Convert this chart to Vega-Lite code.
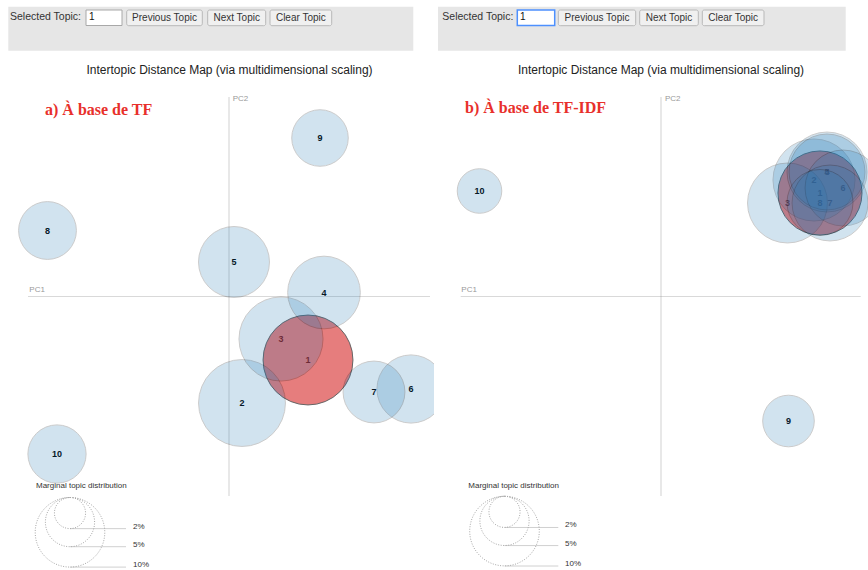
{
  "$schema": "https://vega.github.io/schema/vega-lite/v6.json",
  "padding": 0,
  "spacing": 0,
  "bounds": "flush",
  "background": "white",
  "config": {"view": {"stroke": null}, "font": "Liberation Sans", "axis": {"disable": true}, "legend": {"disable": true}},
  "resolve": {"scale": {"x": "independent", "y": "independent", "size": "independent"}},
  "datasets": {
    "tf": [
      {"topic": 1, "PC1": 0.158, "PC2": -0.127, "pct": 16.7},
      {"topic": 2, "PC1": 0.026, "PC2": -0.213, "pct": 15.6},
      {"topic": 3, "PC1": 0.104, "PC2": -0.085, "pct": 14.6},
      {"topic": 4, "PC1": 0.190, "PC2": 0.008, "pct": 10.9},
      {"topic": 5, "PC1": 0.010, "PC2": 0.069, "pct": 10.4},
      {"topic": 6, "PC1": 0.364, "PC2": -0.185, "pct": 9.6},
      {"topic": 7, "PC1": 0.290, "PC2": -0.191, "pct": 7.9},
      {"topic": 8, "PC1": -0.363, "PC2": 0.132, "pct": 6.9},
      {"topic": 9, "PC1": 0.182, "PC2": 0.317, "pct": 6.6},
      {"topic": 10, "PC1": -0.344, "PC2": -0.315, "pct": 7.0}
    ],
    "tfidf": [
      {"topic": 1, "PC1": 0.318, "PC2": 0.207, "pct": 14.6},
      {"topic": 2, "PC1": 0.306, "PC2": 0.233, "pct": 13.9},
      {"topic": 3, "PC1": 0.253, "PC2": 0.187, "pct": 13.2},
      {"topic": 4, "PC1": 0.332, "PC2": 0.249, "pct": 13.2},
      {"topic": 5, "PC1": 0.332, "PC2": 0.249, "pct": 11.9},
      {"topic": 6, "PC1": 0.364, "PC2": 0.217, "pct": 11.9},
      {"topic": 7, "PC1": 0.338, "PC2": 0.187, "pct": 11.9},
      {"topic": 8, "PC1": 0.318, "PC2": 0.188, "pct": 9.0},
      {"topic": 9, "PC1": 0.255, "PC2": -0.249, "pct": 5.5},
      {"topic": 10, "PC1": -0.363, "PC2": 0.211, "pct": 4.1}
    ],
    "legend": [
      {"pct": 2, "label": "2%"},
      {"pct": 5, "label": "5%"},
      {"pct": 10, "label": "10%"}
    ]
  },
  "hconcat": [
    {
      "width": 434,
      "height": 570,
      "resolve": {"scale": {"y": "independent"}},
      "layer": [
        {
          "layer": [
            {"data": {"values": [{}]}, "mark": {"type": "rect", "fill": "#e6e6e6"},
             "encoding": {"x": {"datum": -0.4414, "type": "quantitative", "scale": {"domain": [-0.458, 0.41], "nice": false, "zero": false}}, "x2": {"datum": 0.3686},
                          "y": {"datum": 0.5796, "type": "quantitative", "scale": {"domain": [-0.547, 0.593], "nice": false, "zero": false}}, "y2": {"datum": 0.4916}}},
            {"data": {"values": [{}]}, "mark": {"type": "rect", "fill": "white", "stroke": "#a8a8a8", "strokeWidth": 1},
             "encoding": {"x": {"datum": -0.286, "type": "quantitative", "scale": {"domain": [-0.458, 0.41], "nice": false, "zero": false}}, "x2": {"datum": -0.214},
                          "y": {"datum": 0.573, "type": "quantitative", "scale": {"domain": [-0.547, 0.593], "nice": false, "zero": false}}, "y2": {"datum": 0.542}}},
            {"data": {"values": [{}]}, "mark": {"type": "rect", "fill": "#f0f0f0", "stroke": "#b8b8b8", "strokeWidth": 1, "cornerRadius": 2},
             "encoding": {"x": {"datum": -0.2046, "type": "quantitative", "scale": {"domain": [-0.458, 0.41], "nice": false, "zero": false}}, "x2": {"datum": -0.0534},
                          "y": {"datum": 0.573, "type": "quantitative", "scale": {"domain": [-0.547, 0.593], "nice": false, "zero": false}}, "y2": {"datum": 0.5416}}},
            {"data": {"values": [{}]}, "mark": {"type": "rect", "fill": "#f0f0f0", "stroke": "#b8b8b8", "strokeWidth": 1, "cornerRadius": 2},
             "encoding": {"x": {"datum": -0.0426, "type": "quantitative", "scale": {"domain": [-0.458, 0.41], "nice": false, "zero": false}}, "x2": {"datum": 0.0734},
                          "y": {"datum": 0.573, "type": "quantitative", "scale": {"domain": [-0.547, 0.593], "nice": false, "zero": false}}, "y2": {"datum": 0.5416}}},
            {"data": {"values": [{}]}, "mark": {"type": "rect", "fill": "#f0f0f0", "stroke": "#b8b8b8", "strokeWidth": 1, "cornerRadius": 2},
             "encoding": {"x": {"datum": 0.082, "type": "quantitative", "scale": {"domain": [-0.458, 0.41], "nice": false, "zero": false}}, "x2": {"datum": 0.2054},
                          "y": {"datum": 0.573, "type": "quantitative", "scale": {"domain": [-0.547, 0.593], "nice": false, "zero": false}}, "y2": {"datum": 0.5416}}},
            {"data": {"values": [{}]}, "mark": {"type": "text", "text": "Selected Topic:", "align": "left", "baseline": "middle", "fontSize": 10.5, "fill": "#333333"},
             "encoding": {"x": {"datum": -0.438, "type": "quantitative", "scale": {"domain": [-0.458, 0.41], "nice": false, "zero": false}},
                          "y": {"datum": 0.5584, "type": "quantitative", "scale": {"domain": [-0.547, 0.593], "nice": false, "zero": false}}}},
            {"data": {"values": [{}]}, "mark": {"type": "text", "text": "1", "align": "left", "baseline": "middle", "fontSize": 10, "fill": "#111111"},
             "encoding": {"x": {"datum": -0.28, "type": "quantitative", "scale": {"domain": [-0.458, 0.41], "nice": false, "zero": false}},
                          "y": {"datum": 0.5584, "type": "quantitative", "scale": {"domain": [-0.547, 0.593], "nice": false, "zero": false}}}},
            {"data": {"values": [{}]}, "mark": {"type": "text", "text": "Previous Topic", "align": "center", "baseline": "middle", "fontSize": 10, "fill": "#333333"},
             "encoding": {"x": {"datum": -0.129, "type": "quantitative", "scale": {"domain": [-0.458, 0.41], "nice": false, "zero": false}},
                          "y": {"datum": 0.5573, "type": "quantitative", "scale": {"domain": [-0.547, 0.593], "nice": false, "zero": false}}}},
            {"data": {"values": [{}]}, "mark": {"type": "text", "text": "Next Topic", "align": "center", "baseline": "middle", "fontSize": 10, "fill": "#333333"},
             "encoding": {"x": {"datum": 0.0154, "type": "quantitative", "scale": {"domain": [-0.458, 0.41], "nice": false, "zero": false}},
                          "y": {"datum": 0.5573, "type": "quantitative", "scale": {"domain": [-0.547, 0.593], "nice": false, "zero": false}}}},
            {"data": {"values": [{}]}, "mark": {"type": "text", "text": "Clear Topic", "align": "center", "baseline": "middle", "fontSize": 10, "fill": "#333333"},
             "encoding": {"x": {"datum": 0.1437, "type": "quantitative", "scale": {"domain": [-0.458, 0.41], "nice": false, "zero": false}},
                          "y": {"datum": 0.5573, "type": "quantitative", "scale": {"domain": [-0.547, 0.593], "nice": false, "zero": false}}}},
            {"data": {"values": [{}]}, "mark": {"type": "text", "text": "Intertopic Distance Map (via multidimensional scaling)", "align": "center", "baseline": "middle", "fontSize": 12, "fill": "#222222"},
             "encoding": {"x": {"datum": 0.001, "type": "quantitative", "scale": {"domain": [-0.458, 0.41], "nice": false, "zero": false}},
                          "y": {"datum": 0.453, "type": "quantitative", "scale": {"domain": [-0.547, 0.593], "nice": false, "zero": false}}}},
            {"data": {"values": [{}]}, "mark": {"type": "text", "text": "a) À base de TF", "align": "left", "baseline": "alphabetic", "fontSize": 16, "font": "Liberation Serif", "fontWeight": "bold", "fill": "#e8302b"},
             "encoding": {"x": {"datum": -0.368, "type": "quantitative", "scale": {"domain": [-0.458, 0.41], "nice": false, "zero": false}},
                          "y": {"datum": 0.363, "type": "quantitative", "scale": {"domain": [-0.547, 0.593], "nice": false, "zero": false}}}},
            {"data": {"values": [{}]}, "mark": {"type": "rule", "stroke": "gray", "opacity": 0.3, "strokeWidth": 1.2},
             "encoding": {"x": {"datum": -0.402, "type": "quantitative", "scale": {"domain": [-0.458, 0.41], "nice": false, "zero": false}}, "x2": {"datum": 0.402},
                          "y": {"datum": 0, "type": "quantitative", "scale": {"domain": [-0.547, 0.593], "nice": false, "zero": false}}}},
            {"data": {"values": [{}]}, "mark": {"type": "rule", "stroke": "gray", "opacity": 0.3, "strokeWidth": 1.2},
             "encoding": {"x": {"datum": 0, "type": "quantitative", "scale": {"domain": [-0.458, 0.41], "nice": false, "zero": false}},
                          "y": {"datum": 0.399, "type": "quantitative", "scale": {"domain": [-0.547, 0.593], "nice": false, "zero": false}}, "y2": {"datum": -0.399}}},
            {"data": {"values": [{}]}, "mark": {"type": "text", "text": "PC1", "align": "left", "baseline": "middle", "fontSize": 8, "fill": "#999999"},
             "encoding": {"x": {"datum": -0.3994, "type": "quantitative", "scale": {"domain": [-0.458, 0.41], "nice": false, "zero": false}},
                          "y": {"datum": 0.013, "type": "quantitative", "scale": {"domain": [-0.547, 0.593], "nice": false, "zero": false}}}},
            {"data": {"values": [{}]}, "mark": {"type": "text", "text": "PC2", "align": "left", "baseline": "middle", "fontSize": 8, "fill": "#999999"},
             "encoding": {"x": {"datum": 0.0074, "type": "quantitative", "scale": {"domain": [-0.458, 0.41], "nice": false, "zero": false}},
                          "y": {"datum": 0.395, "type": "quantitative", "scale": {"domain": [-0.547, 0.593], "nice": false, "zero": false}}}},
            {"data": {"name": "tf"}, "mark": {"type": "text", "fontSize": 9, "fontWeight": "bold", "fill": "black", "align": "center", "baseline": "middle"},
             "encoding": {"x": {"field": "PC1", "type": "quantitative", "scale": {"domain": [-0.458, 0.41], "nice": false, "zero": false}},
                          "y": {"field": "PC2", "type": "quantitative", "scale": {"domain": [-0.547, 0.593], "nice": false, "zero": false}},
                          "text": {"field": "topic", "type": "nominal"}}},
            {"data": {"name": "tf"}, "transform": [{"filter": "datum.topic == 1"}],
             "mark": {"type": "circle", "fill": "#d62728", "stroke": "black", "strokeWidth": 1, "opacity": 0.6, "clip": true},
             "encoding": {"x": {"field": "PC1", "type": "quantitative", "scale": {"domain": [-0.458, 0.41], "nice": false, "zero": false}},
                          "y": {"field": "PC2", "type": "quantitative", "scale": {"domain": [-0.547, 0.593], "nice": false, "zero": false}},
                          "size": {"field": "pct", "type": "quantitative", "scale": {"type": "linear", "domain": [0, 10], "range": [0, 4840], "zero": true, "nice": false}}}},
            {"data": {"name": "tf"}, "transform": [{"filter": "datum.topic != 1"}],
             "mark": {"type": "circle", "fill": "#1f77b4", "stroke": "black", "strokeWidth": 1, "opacity": 0.2, "clip": true},
             "encoding": {"x": {"field": "PC1", "type": "quantitative", "scale": {"domain": [-0.458, 0.41], "nice": false, "zero": false}},
                          "y": {"field": "PC2", "type": "quantitative", "scale": {"domain": [-0.547, 0.593], "nice": false, "zero": false}},
                          "size": {"field": "pct", "type": "quantitative", "scale": {"type": "linear", "domain": [0, 10], "range": [0, 4840], "zero": true, "nice": false}}}},
            {"data": {"values": [{}]}, "mark": {"type": "text", "text": "Marginal topic distribution", "align": "left", "baseline": "middle", "fontSize": 8, "fill": "#333333"},
             "encoding": {"x": {"datum": -0.386, "type": "quantitative", "scale": {"domain": [-0.458, 0.41], "nice": false, "zero": false}},
                          "y": {"datum": -0.379, "type": "quantitative", "scale": {"domain": [-0.547, 0.593], "nice": false, "zero": false}}}}
          ]
        },
        {
          "data": {"name": "legend"},
          "layer": [
            {"mark": {"type": "rule", "stroke": "#d0d0d0", "strokeWidth": 1},
             "encoding": {"x": {"datum": -0.318, "type": "quantitative", "scale": {"domain": [-0.458, 0.41], "nice": false, "zero": false}}, "x2": {"datum": -0.206},
                          "y": {"field": "pct", "type": "quantitative", "scale": {"type": "sqrt", "domain": [0, 10], "range": [497.5, 567.1], "nice": false, "zero": true}}}},
            {"mark": {"type": "point", "shape": "M0,0C0.5523,0,1,0.4477,1,1C1,1.5523,0.5523,2,0,2C-0.5523,2,-1,1.5523,-1,1C-1,0.4477,-0.5523,0,0,0Z", "filled": false, "stroke": "#a8a8a8", "strokeWidth": 1, "strokeDash": [1, 1.5], "opacity": 1},
             "encoding": {"x": {"datum": -0.318, "type": "quantitative", "scale": {"domain": [-0.458, 0.41], "nice": false, "zero": false}},
                          "y": {"datum": 0, "type": "quantitative", "scale": {"type": "sqrt", "domain": [0, 10], "range": [497.5, 567.1], "nice": false, "zero": true}},
                          "size": {"field": "pct", "type": "quantitative", "scale": {"type": "linear", "domain": [0, 10], "range": [0, 4840], "zero": true, "nice": false}}}},
            {"mark": {"type": "text", "align": "left", "baseline": "middle", "dy": -2, "fontSize": 8, "fill": "#333333"},
             "encoding": {"x": {"datum": -0.192, "type": "quantitative", "scale": {"domain": [-0.458, 0.41], "nice": false, "zero": false}},
                          "y": {"field": "pct", "type": "quantitative", "scale": {"type": "sqrt", "domain": [0, 10], "range": [497.5, 567.1], "nice": false, "zero": true}},
                          "text": {"field": "label", "type": "nominal"}}}
          ]
        }
      ]
    },
    {
      "width": 434,
      "height": 570,
      "resolve": {"scale": {"y": "independent"}},
      "layer": [
        {
          "layer": [
            {"data": {"values": [{}]}, "mark": {"type": "rect", "fill": "#e6e6e6"},
             "encoding": {"x": {"datum": -0.446, "type": "quantitative", "scale": {"domain": [-0.454, 0.414], "nice": false, "zero": false}}, "x2": {"datum": 0.3694},
                          "y": {"datum": 0.5796, "type": "quantitative", "scale": {"domain": [-0.547, 0.593], "nice": false, "zero": false}}, "y2": {"datum": 0.4916}}},
            {"data": {"values": [{}]}, "mark": {"type": "rect", "fill": "white", "stroke": "#4d90fe", "strokeWidth": 1.5},
             "encoding": {"x": {"datum": -0.2874, "type": "quantitative", "scale": {"domain": [-0.454, 0.414], "nice": false, "zero": false}}, "x2": {"datum": -0.2126},
                          "y": {"datum": 0.573, "type": "quantitative", "scale": {"domain": [-0.547, 0.593], "nice": false, "zero": false}}, "y2": {"datum": 0.542}}},
            {"data": {"values": [{}]}, "mark": {"type": "rect", "fill": "#f0f0f0", "stroke": "#b8b8b8", "strokeWidth": 1, "cornerRadius": 2},
             "encoding": {"x": {"datum": -0.2054, "type": "quantitative", "scale": {"domain": [-0.454, 0.414], "nice": false, "zero": false}}, "x2": {"datum": -0.0506},
                          "y": {"datum": 0.573, "type": "quantitative", "scale": {"domain": [-0.547, 0.593], "nice": false, "zero": false}}, "y2": {"datum": 0.5416}}},
            {"data": {"values": [{}]}, "mark": {"type": "rect", "fill": "#f0f0f0", "stroke": "#b8b8b8", "strokeWidth": 1, "cornerRadius": 2},
             "encoding": {"x": {"datum": -0.0426, "type": "quantitative", "scale": {"domain": [-0.454, 0.414], "nice": false, "zero": false}}, "x2": {"datum": 0.0746},
                          "y": {"datum": 0.573, "type": "quantitative", "scale": {"domain": [-0.547, 0.593], "nice": false, "zero": false}}, "y2": {"datum": 0.5416}}},
            {"data": {"values": [{}]}, "mark": {"type": "rect", "fill": "#f0f0f0", "stroke": "#b8b8b8", "strokeWidth": 1, "cornerRadius": 2},
             "encoding": {"x": {"datum": 0.0826, "type": "quantitative", "scale": {"domain": [-0.454, 0.414], "nice": false, "zero": false}}, "x2": {"datum": 0.206},
                          "y": {"datum": 0.573, "type": "quantitative", "scale": {"domain": [-0.547, 0.593], "nice": false, "zero": false}}, "y2": {"datum": 0.5416}}},
            {"data": {"values": [{}]}, "mark": {"type": "text", "text": "Selected Topic:", "align": "left", "baseline": "middle", "fontSize": 10.5, "fill": "#333333"},
             "encoding": {"x": {"datum": -0.4374, "type": "quantitative", "scale": {"domain": [-0.454, 0.414], "nice": false, "zero": false}},
                          "y": {"datum": 0.5584, "type": "quantitative", "scale": {"domain": [-0.547, 0.593], "nice": false, "zero": false}}}},
            {"data": {"values": [{}]}, "mark": {"type": "text", "text": "1", "align": "left", "baseline": "middle", "fontSize": 10, "fill": "#111111"},
             "encoding": {"x": {"datum": -0.282, "type": "quantitative", "scale": {"domain": [-0.454, 0.414], "nice": false, "zero": false}},
                          "y": {"datum": 0.5584, "type": "quantitative", "scale": {"domain": [-0.547, 0.593], "nice": false, "zero": false}}}},
            {"data": {"values": [{}]}, "mark": {"type": "text", "text": "Previous Topic", "align": "center", "baseline": "middle", "fontSize": 10, "fill": "#333333"},
             "encoding": {"x": {"datum": -0.128, "type": "quantitative", "scale": {"domain": [-0.454, 0.414], "nice": false, "zero": false}},
                          "y": {"datum": 0.5573, "type": "quantitative", "scale": {"domain": [-0.547, 0.593], "nice": false, "zero": false}}}},
            {"data": {"values": [{}]}, "mark": {"type": "text", "text": "Next Topic", "align": "center", "baseline": "middle", "fontSize": 10, "fill": "#333333"},
             "encoding": {"x": {"datum": 0.016, "type": "quantitative", "scale": {"domain": [-0.454, 0.414], "nice": false, "zero": false}},
                          "y": {"datum": 0.5573, "type": "quantitative", "scale": {"domain": [-0.547, 0.593], "nice": false, "zero": false}}}},
            {"data": {"values": [{}]}, "mark": {"type": "text", "text": "Clear Topic", "align": "center", "baseline": "middle", "fontSize": 10, "fill": "#333333"},
             "encoding": {"x": {"datum": 0.1443, "type": "quantitative", "scale": {"domain": [-0.454, 0.414], "nice": false, "zero": false}},
                          "y": {"datum": 0.5573, "type": "quantitative", "scale": {"domain": [-0.547, 0.593], "nice": false, "zero": false}}}},
            {"data": {"values": [{}]}, "mark": {"type": "text", "text": "Intertopic Distance Map (via multidimensional scaling)", "align": "center", "baseline": "middle", "fontSize": 12, "fill": "#222222"},
             "encoding": {"x": {"datum": 0.0, "type": "quantitative", "scale": {"domain": [-0.454, 0.414], "nice": false, "zero": false}},
                          "y": {"datum": 0.453, "type": "quantitative", "scale": {"domain": [-0.547, 0.593], "nice": false, "zero": false}}}},
            {"data": {"values": [{}]}, "mark": {"type": "text", "text": "b) À base de TF-IDF", "align": "left", "baseline": "alphabetic", "fontSize": 16, "font": "Liberation Serif", "fontWeight": "bold", "fill": "#e8302b"},
             "encoding": {"x": {"datum": -0.392, "type": "quantitative", "scale": {"domain": [-0.454, 0.414], "nice": false, "zero": false}},
                          "y": {"datum": 0.3676, "type": "quantitative", "scale": {"domain": [-0.547, 0.593], "nice": false, "zero": false}}}},
            {"data": {"values": [{}]}, "mark": {"type": "rule", "stroke": "gray", "opacity": 0.3, "strokeWidth": 1.2},
             "encoding": {"x": {"datum": -0.4006, "type": "quantitative", "scale": {"domain": [-0.454, 0.414], "nice": false, "zero": false}}, "x2": {"datum": 0.3994},
                          "y": {"datum": 0, "type": "quantitative", "scale": {"domain": [-0.547, 0.593], "nice": false, "zero": false}}}},
            {"data": {"values": [{}]}, "mark": {"type": "rule", "stroke": "gray", "opacity": 0.3, "strokeWidth": 1.2},
             "encoding": {"x": {"datum": 0, "type": "quantitative", "scale": {"domain": [-0.454, 0.414], "nice": false, "zero": false}},
                          "y": {"datum": 0.399, "type": "quantitative", "scale": {"domain": [-0.547, 0.593], "nice": false, "zero": false}}, "y2": {"datum": -0.399}}},
            {"data": {"values": [{}]}, "mark": {"type": "text", "text": "PC1", "align": "left", "baseline": "middle", "fontSize": 8, "fill": "#999999"},
             "encoding": {"x": {"datum": -0.3994, "type": "quantitative", "scale": {"domain": [-0.454, 0.414], "nice": false, "zero": false}},
                          "y": {"datum": 0.013, "type": "quantitative", "scale": {"domain": [-0.547, 0.593], "nice": false, "zero": false}}}},
            {"data": {"values": [{}]}, "mark": {"type": "text", "text": "PC2", "align": "left", "baseline": "middle", "fontSize": 8, "fill": "#999999"},
             "encoding": {"x": {"datum": 0.008, "type": "quantitative", "scale": {"domain": [-0.454, 0.414], "nice": false, "zero": false}},
                          "y": {"datum": 0.395, "type": "quantitative", "scale": {"domain": [-0.547, 0.593], "nice": false, "zero": false}}}},
            {"data": {"name": "tfidf"}, "mark": {"type": "text", "fontSize": 9, "fontWeight": "bold", "fill": "black", "align": "center", "baseline": "middle"},
             "encoding": {"x": {"field": "PC1", "type": "quantitative", "scale": {"domain": [-0.454, 0.414], "nice": false, "zero": false}},
                          "y": {"field": "PC2", "type": "quantitative", "scale": {"domain": [-0.547, 0.593], "nice": false, "zero": false}},
                          "text": {"field": "topic", "type": "nominal"}}},
            {"data": {"name": "tfidf"}, "transform": [{"filter": "datum.topic == 1"}],
             "mark": {"type": "circle", "fill": "#d62728", "stroke": "black", "strokeWidth": 1, "opacity": 0.6, "clip": true},
             "encoding": {"x": {"field": "PC1", "type": "quantitative", "scale": {"domain": [-0.454, 0.414], "nice": false, "zero": false}},
                          "y": {"field": "PC2", "type": "quantitative", "scale": {"domain": [-0.547, 0.593], "nice": false, "zero": false}},
                          "size": {"field": "pct", "type": "quantitative", "scale": {"type": "linear", "domain": [0, 10], "range": [0, 4840], "zero": true, "nice": false}}}},
            {"data": {"name": "tfidf"}, "transform": [{"filter": "datum.topic != 1"}],
             "mark": {"type": "circle", "fill": "#1f77b4", "stroke": "black", "strokeWidth": 1, "opacity": 0.2, "clip": true},
             "encoding": {"x": {"field": "PC1", "type": "quantitative", "scale": {"domain": [-0.454, 0.414], "nice": false, "zero": false}},
                          "y": {"field": "PC2", "type": "quantitative", "scale": {"domain": [-0.547, 0.593], "nice": false, "zero": false}},
                          "size": {"field": "pct", "type": "quantitative", "scale": {"type": "linear", "domain": [0, 10], "range": [0, 4840], "zero": true, "nice": false}}}},
            {"data": {"values": [{}]}, "mark": {"type": "text", "text": "Marginal topic distribution", "align": "left", "baseline": "middle", "fontSize": 8, "fill": "#333333"},
             "encoding": {"x": {"datum": -0.3854, "type": "quantitative", "scale": {"domain": [-0.454, 0.414], "nice": false, "zero": false}},
                          "y": {"datum": -0.379, "type": "quantitative", "scale": {"domain": [-0.547, 0.593], "nice": false, "zero": false}}}}
          ]
        },
        {
          "data": {"name": "legend"},
          "layer": [
            {"mark": {"type": "rule", "stroke": "#d0d0d0", "strokeWidth": 1},
             "encoding": {"x": {"datum": -0.313, "type": "quantitative", "scale": {"domain": [-0.454, 0.414], "nice": false, "zero": false}}, "x2": {"datum": -0.2054},
                          "y": {"field": "pct", "type": "quantitative", "scale": {"type": "sqrt", "domain": [0, 10], "range": [496.3, 566], "nice": false, "zero": true}}}},
            {"mark": {"type": "point", "shape": "M0,0C0.5523,0,1,0.4477,1,1C1,1.5523,0.5523,2,0,2C-0.5523,2,-1,1.5523,-1,1C-1,0.4477,-0.5523,0,0,0Z", "filled": false, "stroke": "#a8a8a8", "strokeWidth": 1, "strokeDash": [1, 1.5], "opacity": 1},
             "encoding": {"x": {"datum": -0.313, "type": "quantitative", "scale": {"domain": [-0.454, 0.414], "nice": false, "zero": false}},
                          "y": {"datum": 0, "type": "quantitative", "scale": {"type": "sqrt", "domain": [0, 10], "range": [496.3, 566], "nice": false, "zero": true}},
                          "size": {"field": "pct", "type": "quantitative", "scale": {"type": "linear", "domain": [0, 10], "range": [0, 4840], "zero": true, "nice": false}}}},
            {"mark": {"type": "text", "align": "left", "baseline": "middle", "dy": -2, "fontSize": 8, "fill": "#333333"},
             "encoding": {"x": {"datum": -0.192, "type": "quantitative", "scale": {"domain": [-0.454, 0.414], "nice": false, "zero": false}},
                          "y": {"field": "pct", "type": "quantitative", "scale": {"type": "sqrt", "domain": [0, 10], "range": [496.3, 566], "nice": false, "zero": true}},
                          "text": {"field": "label", "type": "nominal"}}}
          ]
        }
      ]
    }
  ]
}
